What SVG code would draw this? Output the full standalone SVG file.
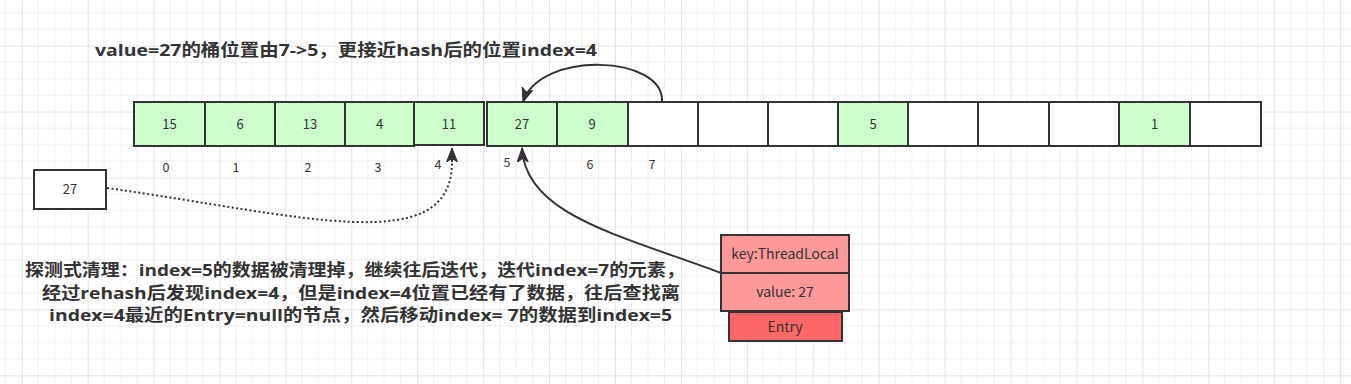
<svg xmlns="http://www.w3.org/2000/svg" width="1351" height="384" viewBox="0 0 1351 384">
<style>
text{font-family:"Noto Sans CJK SC","Microsoft YaHei",sans-serif;fill:#333;}
.cell{fill:#ccffcc;stroke:#333;stroke-width:2;}
.empty{fill:#ffffff;stroke:#333;stroke-width:2;}
.ct{font-size:13px;text-anchor:middle;}
.idx{font-size:12.5px;text-anchor:middle;}
.big{font-family:"Open Sans","Noto Sans CJK SC",sans-serif;font-size:16.5px;font-weight:bold;text-anchor:middle;}
.pink{fill:#ff9999;stroke:#333;stroke-width:2;}
.red{fill:#ff6666;stroke:#333;stroke-width:2;}
.et{font-size:14px;text-anchor:middle;}
.conn{fill:none;stroke:#333;stroke-width:2;}
</style>
<defs>
<pattern id="grid" x="21.7" y="45.7" width="65.92" height="65.92" patternUnits="userSpaceOnUse">
<path d="M16.48,0V65.92M32.96,0V65.92M49.44,0V65.92M0,16.48H65.92M0,32.96H65.92M0,49.44H65.92" stroke="#efefef" stroke-width="1" fill="none"/>
<path d="M0.5,0V65.92M0,0.5H65.92" stroke="#e3e3e3" stroke-width="1" fill="none"/>
</pattern>
<marker id="arr" markerUnits="userSpaceOnUse" markerWidth="16" markerHeight="12" refX="14" refY="6" orient="auto" viewBox="0 0 16 12">
<path d="M0,0.5 L14,6 L0,11.5 L3.5,6 Z" fill="#333" stroke="#333" stroke-width="1"/>
</marker>
</defs>
<rect width="1351" height="384" fill="#ffffff"/>
<rect width="1351" height="384" fill="url(#grid)"/>

<g id="title"><text class="big" x="346" y="56" textLength="502" lengthAdjust="spacingAndGlyphs">value=27的桶位置由7-&gt;5，更接近hash后的位置index=4</text></g>

<g id="array">
<g id="c0"><rect class="cell" x="134" y="102" width="71" height="44"/><text class="ct" x="169.5" y="129">15</text></g>
<g id="c1"><rect class="cell" x="205" y="102" width="70" height="44"/><text class="ct" x="240" y="129">6</text></g>
<g id="c2"><rect class="cell" x="275" y="102" width="70" height="44"/><text class="ct" x="310" y="129">13</text></g>
<g id="c3"><rect class="cell" x="345" y="102" width="69" height="44"/><text class="ct" x="379.5" y="129">4</text></g>
<g id="c4"><rect class="cell" x="414" y="102" width="70" height="43"/><text class="ct" x="449" y="129">11</text></g>
<g id="c5"><rect class="cell" x="487" y="102" width="70" height="44"/><text class="ct" x="522" y="129">27</text></g>
<g id="c6"><rect class="cell" x="557" y="102" width="71" height="44"/><text class="ct" x="592" y="129">9</text></g>
<g id="c7"><rect class="empty" x="628" y="102" width="70" height="44"/></g>
<g id="c8"><rect class="empty" x="698" y="102" width="70" height="44"/></g>
<g id="c9"><rect class="empty" x="768" y="102" width="70" height="44"/></g>
<g id="c10"><rect class="cell" x="838" y="102" width="70" height="44"/><text class="ct" x="873" y="129">5</text></g>
<g id="c11"><rect class="empty" x="908" y="102" width="70" height="44"/></g>
<g id="c12"><rect class="empty" x="978" y="102" width="71" height="44"/></g>
<g id="c13"><rect class="empty" x="1049" y="102" width="70" height="44"/></g>
<g id="c14"><rect class="cell" x="1119" y="102" width="71" height="44"/><text class="ct" x="1154.5" y="129">1</text></g>
<g id="c15"><rect class="empty" x="1190" y="102" width="71" height="44"/></g>
</g>

<g id="indices">
<text class="idx" x="166" y="172">0</text>
<text class="idx" x="236" y="172">1</text>
<text class="idx" x="308" y="172">2</text>
<text class="idx" x="378" y="172">3</text>
<text class="idx" x="438" y="169">4</text>
<text class="idx" x="507" y="167">5</text>
<text class="idx" x="590" y="169">6</text>
<text class="idx" x="652" y="169">7</text>
</g>

<g id="box27"><rect class="empty" x="34" y="170" width="72" height="39"/><text class="ct" x="70" y="194">27</text></g>

<g id="entry">
<rect class="pink" x="721" y="235" width="128" height="38"/>
<text class="et" x="785" y="259">key:ThreadLocal</text>
<rect class="pink" x="721" y="273" width="128" height="38"/>
<text class="et" x="785" y="297">value: 27</text>
<rect class="red" x="729" y="312" width="113" height="29"/>
<text class="et" x="785" y="332">Entry</text>
</g>

<g id="desc">
<text class="big" x="355" y="276" textLength="660" lengthAdjust="spacingAndGlyphs">探测式清理：index=5的数据被清理掉，继续往后迭代，迭代index=7的元素，</text>
<text class="big" x="361" y="299" textLength="638" lengthAdjust="spacingAndGlyphs">经过rehash后发现index=4，但是index=4位置已经有了数据，往后查找离</text>
<text class="big" x="360.5" y="321" textLength="623" lengthAdjust="spacingAndGlyphs">index=4最近的Entry=null的节点，然后移动index= 7的数据到index=5</text>
</g>

<g id="connectors">
<path class="conn" d="M107,188 C300,215 452,260 452,162" stroke-dasharray="2 2.5"/>
<path class="conn" d="M452,162 L452,148" marker-end="url(#arr)"/>
<path class="conn" d="M721,273 C620,235 525,215 522,148" marker-end="url(#arr)"/>
<path class="conn" d="M662,102 C665,55 540,50 523,102" marker-end="url(#arr)"/>
</g>
</svg>
